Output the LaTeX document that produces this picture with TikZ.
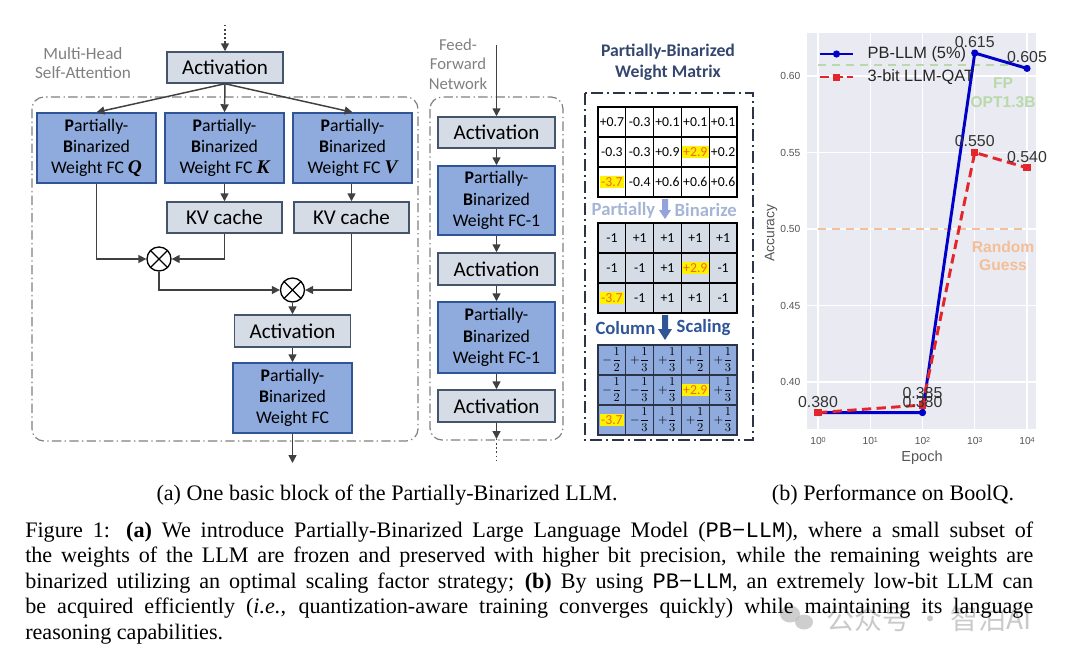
\documentclass[tikz,border=0pt]{standalone}
\usepackage{fontspec}
\setmainfont{Liberation Serif}
\setmonofont{Liberation Mono}
\newfontfamily\carl{Carlito}
\newfontfamily\plotf{Liberation Sans}
\newfontfamily\cjkf{Noto Sans CJK SC}
\usetikzlibrary{arrows.meta,calc}
\definecolor{lbox}{HTML}{D6DCE5}
\definecolor{lboxd}{HTML}{44546A}
\definecolor{bbox}{HTML}{8FAADC}
\definecolor{bboxd}{HTML}{2F5597}
\definecolor{arr}{HTML}{404040}
\definecolor{dashg}{HTML}{808080}
\definecolor{navy}{HTML}{2B3547}
\definecolor{titleb}{HTML}{34476F}
\definecolor{lightlab}{HTML}{A5B5D5}
\definecolor{hltext}{HTML}{F26522}
\definecolor{axbg}{HTML}{EAEAF2}
\definecolor{pblue}{HTML}{0000C8}
\definecolor{pred}{HTML}{E3262B}
\definecolor{fpg}{HTML}{B9D9AB}
\definecolor{rgo}{HTML}{F4BE96}
\definecolor{ticklab}{HTML}{555555}
\definecolor{annot}{HTML}{333333}
\definecolor{wm}{HTML}{BDBDBD}
\newcommand{\hl}[1]{{\setlength{\fboxsep}{1pt}\colorbox{yellow}{\textcolor{hltext}{#1}}}}
\newcommand{\fm}[1]{{\fontsize{8.6}{10}\selectfont$\displaystyle-\frac{1}{#1}$}}
\newcommand{\fp}[1]{{\fontsize{8.6}{10}\selectfont$\displaystyle+\frac{1}{#1}$}}
\begin{document}
\begin{tikzpicture}[x=0.75pt,y=-0.75pt,
  sz/.style 2 args={minimum width=#1*0.75pt, minimum height=#2*0.75pt},
  lbx/.style={draw=lboxd, fill=lbox, line width=1.1pt, inner sep=0pt, font=\carl\fontsize{15.8}{18}\selectfont},
  bbx/.style={draw=bboxd, fill=bbox, line width=1.1pt, inner sep=0pt, align=center, font=\carl\fontsize{13.3}{16}\selectfont},
  conn/.style={draw=arr, line width=1.1pt, -{Triangle[length=6pt,width=6pt]}},
  wire/.style={draw=arr, line width=1.1pt},
  grpbox/.style={draw=dashg, line width=0.9pt, rounded corners=9pt, dash pattern=on 7pt off 2.5pt on 1pt off 2.5pt},
  otimes/.style={circle, draw=black, line width=1pt, minimum size=18pt, inner sep=0pt,
    path picture={\draw[line width=1pt] (path picture bounding box.north west) -- (path picture bounding box.south east) (path picture bounding box.north east) -- (path picture bounding box.south west);}},
  glab/.style={text=dashg, align=center, font=\carl\fontsize{12.9}{15}\selectfont},
  cellbox/.style={draw=black, line width=0.9pt, minimum width=20.85pt, minimum height=22.5pt, inner sep=0pt, font=\carl\fontsize{10.3}{12}\selectfont},
  tklab/.style={text=ticklab, font=\plotf\fontsize{7.7}{9}\selectfont},
  annlab/.style={text=annot, font=\plotf\fontsize{11.9}{13}\selectfont},
  captxt/.style={font=\fontsize{16.6}{19}\selectfont, inner sep=0pt}
]
\useasboundingbox (0,0) rectangle (1080,662);

% ================= Multi-head self-attention =================
\draw[grpbox] (32,97) rectangle (418,441);
\node[glab] (mhsa) at (83,63) {Multi-Head\\[-1pt]Self-Attention};
\node[lbx, sz={116}{31}] (act0) at (225,67.5) {Activation};
\node[bbx, sz={119}{70}] (fcq) at (96.5,148) {\textbf{P}artially-\\\textbf{B}inarized\\Weight FC {\rmfamily\bfseries\itshape\fontsize{14.5}{16}\selectfont Q}};
\node[bbx, sz={119}{70}] (fck) at (224.5,148) {\textbf{P}artially-\\\textbf{B}inarized\\Weight FC {\rmfamily\bfseries\itshape\fontsize{14.5}{16}\selectfont K}};
\node[bbx, sz={119}{70}] (fcv) at (352.5,148) {\textbf{P}artially-\\\textbf{B}inarized\\Weight FC {\rmfamily\bfseries\itshape\fontsize{14.5}{16}\selectfont V}};
\node[lbx, sz={115}{31}] (kvk) at (224.5,217.5) {KV cache};
\node[lbx, sz={115}{31}] (kvv) at (351.5,217.5) {KV cache};
\node[otimes] (ot1) at (159,259) {};
\node[otimes] (ot2) at (292.5,290) {};
\node[lbx, sz={116}{32}] (act1) at (292.5,331) {Activation};
\node[bbx, sz={119}{70}] (fco) at (292.5,398) {\textbf{P}artially-\\\textbf{B}inarized\\Weight FC};
\coordinate (in0) at (225,25);
\coordinate (in1) at (225,41);
\coordinate (out1) at (292.5,463);
\draw[wire, dotted] (in0) -- (in1);
\draw[conn] (in1) -- (act0.north);
\draw[conn] (act0.south) -- (fcq.north);
\draw[conn] (act0.south) -- (fck.north);
\draw[conn] (act0.south) -- (fcv.north);
\draw[conn] (fck.south) -- (kvk.north);
\draw[conn] (fcv.south -| kvv.north) -- (kvv.north);
\draw[conn] (fcq.south) |- (ot1.west);
\draw[conn] (kvk.south) |- (ot1.east);
\draw[conn] (ot1.south) |- (ot2.west);
\draw[conn] (kvv.south) |- (ot2.east);
\draw[conn] (ot2.south) -- (act1.north);
\draw[conn] (act1.south) -- (fco.north);
\draw[conn] (fco.south) -- (out1);

% ================= Feed-forward network =================
\draw[grpbox] (430,97) rectangle (563,440);
\node[glab, font=\carl\fontsize{12.5}{14.5}\selectfont] (ffnlab) at (458,64) {Feed-\\Forward\\Network};
\node[lbx, sz={117}{31}] (ffa1) at (496.5,132.5) {Activation};
\node[bbx, sz={117}{69}] (ffc1) at (496.5,200.5) {\textbf{P}artially-\\\textbf{B}inarized\\Weight FC-1};
\node[lbx, sz={117}{32}] (ffa2) at (496.5,269) {Activation};
\node[bbx, sz={117}{71}] (ffc2) at (496.5,337.5) {\textbf{P}artially-\\\textbf{B}inarized\\Weight FC-1};
\node[lbx, sz={117}{32}] (ffa3) at (496.5,406) {Activation};
\coordinate (fin) at (496.5,45);
\coordinate (fout) at (496.5,439);
\coordinate (fend) at (496.5,462);
\draw[conn] (fin) -- (ffa1.north);
\draw[conn] (ffa1.south) -- (ffc1.north);
\draw[conn] (ffc1.south) -- (ffa2.north);
\draw[conn] (ffa2.south) -- (ffc2.north);
\draw[conn] (ffc2.south) -- (ffa3.north);
\draw[conn] (ffa3.south) -- (fout);
\draw[wire, dotted] (fout) -- (fend);

% ================= Weight matrix panel =================
\node[text=titleb, align=center, font=\carl\bfseries\fontsize{13.3}{15.7}\selectfont] (mtitle) at (668,62) {Partially-Binarized\\Weight Matrix};
\draw[navy, line width=1.6pt, dash pattern=on 9pt off 3pt on 1.5pt off 3pt] (585,93) rectangle (753,440);
% matrix 1
\foreach \row [count=\r] in {{+0.7,-0.3,+0.1,+0.1,+0.1},{-0.3,-0.3,+0.9,\hl{+2.9},+0.2},{\hl{-3.7},-0.4,+0.6,+0.6,+0.6}}{
  \foreach \v [count=\c] in \row {
    \node[cellbox, fill=white] (ma-\r-\c) at ({598+27.8*(\c-0.5)},{107+30*(\r-0.5)}) {\v};
  }
}
\draw[line width=1.3pt] (598,107) rectangle (737,197);
% arrow 1
\fill[lightlab!90!blue] (662,199) -- (668,199) -- (668,210) -- (671,210) -- (665,219) -- (659,210) -- (662,210) -- cycle;
\node[anchor=east, text=lightlab, font=\carl\bfseries\fontsize{14}{16}\selectfont] (pl1) at (660,210) {Partially};
\node[anchor=west, text=lightlab, font=\carl\bfseries\fontsize{14}{16}\selectfont] (pl2) at (670,210) {Binarize};
% matrix 2
\foreach \row [count=\r] in {{-1,+1,+1,+1,+1},{-1,-1,+1,\hl{+2.9},-1},{\hl{-3.7},-1,+1,+1,-1}}{
  \foreach \v [count=\c] in \row {
    \node[cellbox, fill=lbox] (mb-\r-\c) at ({598+27.8*(\c-0.5)},{223+30*(\r-0.5)}) {\v};
  }
}
\draw[line width=1.3pt] (598,223) rectangle (737,313);
% arrow 2
\fill[bboxd] (662,315) -- (668,315) -- (668,329) -- (672,329) -- (665,340) -- (658,329) -- (662,329) -- cycle;
\node[anchor=east, text=bboxd, font=\carl\bfseries\fontsize{14}{16}\selectfont] (cl1) at (660,328) {Column};
\node[anchor=west, text=bboxd, font=\carl\bfseries\fontsize{14}{16}\selectfont] (cl2) at (672,328) {Scaling};
% matrix 3
\foreach \row [count=\r] in {{\fm{2},\fp{3},\fp{3},\fp{2},\fp{3}},{\fm{2},\fm{3},\fp{3},\hl{+2.9},\fp{3}},{\hl{-3.7},\fm{3},\fp{3},\fp{2},\fp{3}}}{
  \foreach \v [count=\c] in \row {
    \node[cellbox, fill=bbox, draw=navy] (mc-\r-\c) at ({598+27.8*(\c-0.5)},{345+30*(\r-0.5)}) {\v};
  }
}
\draw[navy, line width=1.3pt] (598,345) rectangle (737,435);

% ================= Plot =================
\fill[axbg] (807,33) rectangle (1036,429);
\foreach \yy in {76,152.5,229,305.5,382} \draw[white, line width=0.8pt] (807,\yy) -- (1036,\yy);
\foreach \xx in {818,870.25,922.5,974.75,1027} \draw[white, line width=0.8pt] (\xx,33) -- (\xx,429);
\foreach \yy/\lab in {76/0.60,152.5/0.55,229/0.50,305.5/0.45,382/0.40} \node[tklab, anchor=east] at (805,\yy) {\lab};
\foreach \xx/\e in {818/0,870.25/1,922.5/2,974.75/3,1027/4} \node[tklab] at (\xx,441) {10\raisebox{0.45ex}{\fontsize{5.4}{6}\selectfont\e}};
\node[text=ticklab, font=\plotf\fontsize{10.9}{12}\selectfont] (xlab) at (922,458) {Epoch};
\node[text=ticklab, rotate=90, font=\plotf\fontsize{10.4}{12}\selectfont] (ylab) at (771,233) {Accuracy};
% reference lines
\coordinate (fpa) at (818,65); \coordinate (fpb) at (1027,65);
\coordinate (rga) at (818,229); \coordinate (rgb) at (1027,229);
\draw[fpg, line width=2.2pt, dash pattern=on 6pt off 4.5pt] (fpa) -- (fpb);
\draw[rgo, line width=2.2pt, dash pattern=on 6pt off 4.5pt] (rga) -- (rgb);
\node[text=fpg, align=center, font=\plotf\bfseries\fontsize{11.7}{14}\selectfont] (fplab) at (1003,93) {FP\\OPT1.3B};
\node[text=rgo, align=center, font=\plotf\bfseries\fontsize{11.7}{14}\selectfont] (rglab) at (1003,256) {Random\\Guess};
% data
\coordinate (b1) at (818,412.6); \coordinate (b2) at (922.5,412.6); \coordinate (b3) at (974.75,53); \coordinate (b4) at (1027,68.4);
\coordinate (r1) at (818,412.6); \coordinate (r2) at (922.5,405); \coordinate (r3) at (974.75,152.5); \coordinate (r4) at (1027,167.8);
\draw[pblue, line width=2.2pt, line join=round] (b1) -- (b2) -- (b3) -- (b4);
\foreach \p in {b1,b2,b3,b4} \fill[pblue] (\p) circle (3.6);
\draw[pred, line width=2.2pt, dash pattern=on 7pt off 4pt] (r1) -- (r2) -- (r3) -- (r4);
\foreach \p in {r1,r2,r3,r4} \fill[pred] ($(\p)+(-3.6,-3.6)$) rectangle ($(\p)+(3.6,3.6)$);
% annotations
\node[annlab] (a1) at (818,402) {0.380};
\node[annlab] (a2) at (922.5,393) {0.385};
\node[annlab] (a3) at (922.5,402) {0.380};
\node[annlab] (a4) at (974.75,42) {0.615};
\node[annlab] (a5) at (1027,57) {0.605};
\node[annlab] (a6) at (974.75,141) {0.550};
\node[annlab] (a7) at (1027,157) {0.540};
% legend
\coordinate (lb1) at (820,54); \coordinate (lb2) at (853,54);
\coordinate (lr1) at (820,77); \coordinate (lr2) at (853,77);
\draw[pblue, line width=2.2pt] (lb1) -- (lb2);
\fill[pblue] (836.5,54) circle (3.6);
\draw[pred, line width=2.2pt, dash pattern=on 7pt off 3pt] (lr1) -- (lr2);
\fill[pred] (833,73.5) rectangle (840,80.5);
\node[annlab, anchor=west, text=black!85, font=\plotf\fontsize{12.3}{14}\selectfont] (leg1) at (863,54) {PB-LLM (5\%)};
\node[annlab, anchor=west, text=black!85, font=\plotf\fontsize{12.3}{14}\selectfont] (leg2) at (863,77) {3-bit LLM-QAT};

% ================= Captions =================
\node[captxt] (capa) at (387,495) {(a) One basic block of the Partially-Binarized LLM.};
\node[captxt] (capb) at (893,495) {(b) Performance on BoolQ.};
% watermark
\fill[wm, opacity=0.75] (790,614) ellipse (10 and 8.5);
\fill[wm, opacity=0.75] (804,622) ellipse (9 and 7.5);
\node[text=wm, opacity=0.8, font=\cjkf\fontsize{21}{24}\selectfont] (wmtext) at (929,619) {公众号 · 智泊AI};
\node[captxt, anchor=base west] (l1) at (25,537) {\makebox[756pt][s]{Figure 1: \textbf{(a)} We introduce Partially-Binarized Large Language Model (\texttt{PB−LLM}), where a small subset of}};
\node[captxt, anchor=base west] (l2) at (25,562.5) {\makebox[756pt][s]{the weights of the LLM are frozen and preserved with higher bit precision, while the remaining weights are}};
\node[captxt, anchor=base west] (l3) at (25,588) {\makebox[756pt][s]{binarized utilizing an optimal scaling factor strategy; \textbf{(b)} By using \texttt{PB−LLM}, an extremely low-bit LLM can}};
\node[captxt, anchor=base west] (l4) at (25,613.5) {\makebox[756pt][s]{be acquired efficiently (\textit{i.e.,} quantization-aware training converges quickly) while maintaining its language}};
\node[captxt, anchor=base west] (l5) at (25,639) {reasoning capabilities.};
\end{tikzpicture}
\end{document}
